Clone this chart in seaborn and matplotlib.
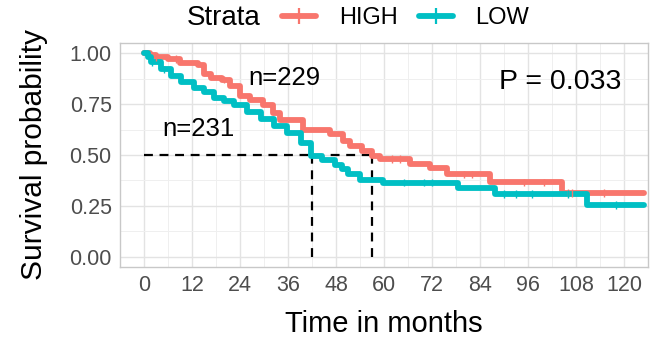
import numpy as np
import pandas as pd
import matplotlib
matplotlib.use("Agg")
import matplotlib.pyplot as plt
from matplotlib.lines import Line2D
from matplotlib.ticker import MultipleLocator
import seaborn as sns

# ---- data ----
high_time = [0, 1.5, 3, 6, 9, 13.5, 15, 16.7, 19.5, 21.5, 24, 26.5, 29.8, 32.3, 34,
             39.8, 46.5, 49.8, 51.5, 54.4, 56.9, 59, 66.5, 71.5, 75.7, 86.5, 104.6, 125]
high_surv = [1.0, 0.99, 0.98, 0.97, 0.95, 0.94, 0.90, 0.88, 0.87, 0.84, 0.79, 0.77, 0.745,
             0.705, 0.672, 0.625, 0.605, 0.57, 0.545, 0.52, 0.497, 0.48, 0.458, 0.435,
             0.405, 0.365, 0.312, 0.312]
low_time = [0, 1, 1.7, 4.2, 6.7, 9.2, 12.5, 15, 17.5, 20, 22.5, 25.8, 29.2, 32.5, 35.8,
            39.2, 41.8, 44.5, 47.8, 49.5, 51, 53.9, 59.8, 78.6, 87.75, 110.7, 125]
low_surv = [1.0, 0.98, 0.955, 0.92, 0.89, 0.86, 0.83, 0.81, 0.78, 0.765, 0.745, 0.71,
            0.675, 0.64, 0.61, 0.56, 0.497, 0.477, 0.452, 0.43, 0.405, 0.375, 0.364,
            0.34, 0.308, 0.255, 0.255]
high_censor = [3, 8, 20, 62, 64, 80, 82, 95, 100, 106, 107, 115]
low_censor = [2, 5, 65, 70, 72, 90, 93, 97, 106, 118]
strata = ["HIGH", "LOW"]
n_labels = ["n=229", "n=231"]
medians = [57, 42]
p_text = "P = 0.033"
x_ticks = list(range(0, 121, 12))
y_ticks = [0.0, 0.25, 0.5, 0.75, 1.0]
colors = {"HIGH": "#F8766D", "LOW": "#00BFC4"}

df = pd.concat([
    pd.DataFrame({"time": high_time, "surv": high_surv, "Strata": "HIGH"}),
    pd.DataFrame({"time": low_time, "surv": low_surv, "Strata": "LOW"}),
], ignore_index=True)

def step_at(times, survs, t):
    idx = np.searchsorted(times, t, side="right") - 1
    return np.asarray(survs)[idx]

cens = pd.concat([
    pd.DataFrame({"time": high_censor, "surv": step_at(high_time, high_surv, high_censor), "Strata": "HIGH"}),
    pd.DataFrame({"time": low_censor, "surv": step_at(low_time, low_surv, low_censor), "Strata": "LOW"}),
], ignore_index=True)

# ---- figure ----
sns.set_theme(style="white")
plt.rcParams["font.family"] = ["Liberation Sans", "DejaVu Sans"]

fig = plt.figure(figsize=(6.53, 3.41), dpi=100)
ax = fig.add_axes([120/653, 1 - 267/341, (648-120)/653, (267-43)/341])

# grid
ax.set_xlim(-6, 126)
ax.set_ylim(-0.05, 1.05)
ax.xaxis.set_major_locator(plt.FixedLocator(x_ticks))
ax.yaxis.set_major_locator(plt.FixedLocator(y_ticks))
ax.xaxis.set_minor_locator(MultipleLocator(6))
ax.yaxis.set_minor_locator(MultipleLocator(0.125))
ax.grid(which="major", color="#E3E3E3", linewidth=1.0)
ax.grid(which="minor", color="#EFEFEF", linewidth=0.7)
ax.set_axisbelow(True)
for s in ax.spines.values():
    s.set_color("#C8C8C8")
    s.set_linewidth(1.0)

# median lines
ax.plot([0, max(medians)], [0.5, 0.5], color="black", linestyle=(0, (4, 3)), linewidth=1.6, zorder=1)
for m in medians:
    ax.plot([m, m], [0, 0.5], color="black", linestyle=(0, (4, 3)), linewidth=1.6, zorder=1)

sns.lineplot(data=df, x="time", y="surv", hue="Strata", palette=colors,
             drawstyle="steps-post", linewidth=4.2, estimator=None, legend=False,
             ax=ax, zorder=2)
sns.scatterplot(data=cens, x="time", y="surv", hue="Strata", palette=colors,
                marker="|", s=30, linewidth=1.0, legend=False, ax=ax, zorder=3)

ax.tick_params(axis="both", which="major", labelsize=15.5, labelcolor="#4D4D4D",
               length=3, color="#B3B3B3", pad=3)
ax.tick_params(which="minor", length=0)
ax.set_xticklabels([str(t) for t in x_ticks])
ax.set_yticklabels([f"{t:.2f}" for t in y_ticks])
ax.set_xlabel("Time in months", fontsize=21, labelpad=10, color="black")
ax.set_ylabel("Survival probability", fontsize=21.5, labelpad=15, color="black")

# annotations
ax.text(35, 0.88, n_labels[0], fontsize=18.5, ha="center", va="center", color="black")
ax.text(13.5, 0.63, n_labels[1], fontsize=18.5, ha="center", va="center", color="black")
ax.text(104, 0.86, p_text, fontsize=20.5, ha="center", va="center", color="black")

# legend
fig.text(224/653, 1 - 18/341, "Strata", fontsize=20, ha="center", va="center", color="black")
handles = [Line2D([0], [0], color=colors[s], linewidth=4.2, marker="+",
                  markersize=11, markeredgewidth=1.6) for s in strata]
fig.legend(handles, strata, loc="center left", bbox_to_anchor=(282/653, 1 - 18/341),
           ncol=2, frameon=False, fontsize=17, handlelength=1.45, handletextpad=0.95,
           columnspacing=0.9, borderaxespad=0, borderpad=0, labelcolor="black")

fig.savefig("out.png", dpi=100)
